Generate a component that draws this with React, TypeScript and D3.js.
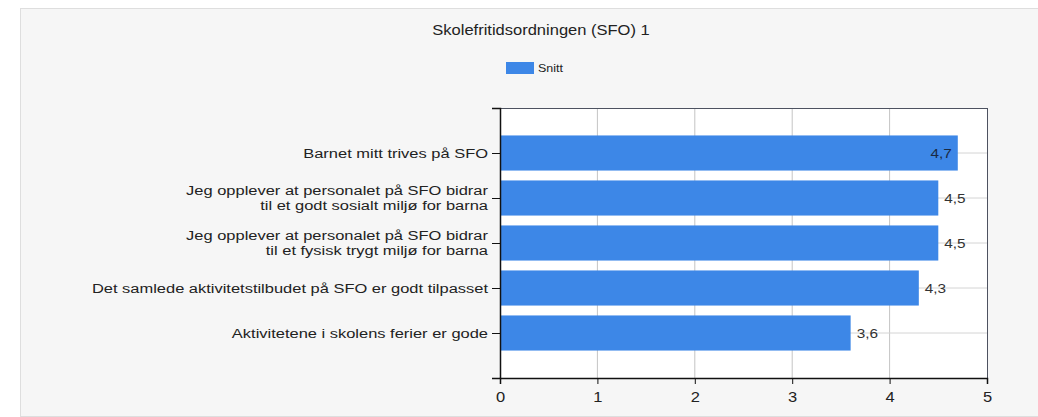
import React, { useEffect, useRef } from "react";
import * as d3 from "d3";

const title = "Skolefritidsordningen (SFO) 1";
const seriesName = "Snitt";
const categories = [
  ["Barnet mitt trives på SFO"],
  ["Jeg opplever at personalet på SFO bidrar", "til et godt sosialt miljø for barna"],
  ["Jeg opplever at personalet på SFO bidrar", "til et fysisk trygt miljø for barna"],
  ["Det samlede aktivitetstilbudet på SFO er godt tilpasset"],
  ["Aktivitetene i skolens ferier er gode"],
];
const values = [4.7, 4.5, 4.5, 4.3, 3.6];
const xTicks = [0, 1, 2, 3, 4, 5];

const W = 1038;
const H = 417;
const margin = { top: 108, right: 51, bottom: 39, left: 500 };
const font = "'Liberation Sans', Arial, sans-serif";
const barColor = "#3d87e7";
// the source picture is stretched sideways, so text is widened a bit
const SX = 1.18;

const App = () => {
  const svgRef = useRef<SVGSVGElement>(null);

  useEffect(() => {
    const svg = d3.select(svgRef.current);
    svg.selectAll("*").remove();

    const width = W - margin.left - margin.right;
    const height = H - margin.top - margin.bottom;

    // panel
    svg
      .append("rect")
      .attr("x", 20.5)
      .attr("y", 8.5)
      .attr("width", W)
      .attr("height", H - 9)
      .attr("fill", "#f6f6f6")
      .attr("stroke", "#dedede");

    svg
      .append("text")
      .attr("transform", `translate(541,35) scale(${SX},1)`)
      .attr("text-anchor", "middle")
      .style("font", `14px ${font}`)
      .attr("fill", "#222")
      .text(title);

    // legend
    svg.append("rect").attr("x", 506).attr("y", 62).attr("width", 28).attr("height", 12).attr("fill", barColor);
    svg
      .append("text")
      .attr("transform", `translate(538,72) scale(1.25,1)`)
      .style("font", `10px ${font}`)
      .attr("fill", "#222")
      .text(seriesName);

    const g = svg.append("g").attr("transform", `translate(${margin.left},${margin.top})`);

    const x = d3.scaleLinear().domain([0, 5]).range([0, width]);
    const y = d3
      .scalePoint<number>()
      .domain(values.map((_, i) => i))
      .range([0, height])
      .padding(1);
    const barH = y.step() * 0.78;

    g.append("rect").attr("width", width).attr("height", height).attr("fill", "#fff");

    // gridlines
    g.selectAll(".vgrid")
      .data(xTicks.slice(1, -1))
      .enter()
      .append("line")
      .attr("x1", (d) => x(d))
      .attr("x2", (d) => x(d))
      .attr("y1", 0)
      .attr("y2", height)
      .attr("stroke", "#c4c4c4");
    g.selectAll(".hgrid")
      .data(values.map((_, i) => i))
      .enter()
      .append("line")
      .attr("x1", 0)
      .attr("x2", width)
      .attr("y1", (d) => y(d)!)
      .attr("y2", (d) => y(d)!)
      .attr("stroke", "#d4d4d4");

    // border
    g.append("rect")
      .attr("x", 0.5)
      .attr("y", 0.5)
      .attr("width", width)
      .attr("height", height)
      .attr("fill", "none")
      .attr("stroke", "#4d5260");

    g.selectAll(".bar")
      .data(values)
      .enter()
      .append("rect")
      .attr("x", 0)
      .attr("y", (_, i) => y(i)! - barH / 2)
      .attr("width", (d) => x(d))
      .attr("height", barH)
      .attr("fill", barColor);

    const fmt = (d: number) => d3.format(".1f")(d).replace(".", ",");
    const inside = (d: number) => x(d) + 32 > width;
    g.selectAll(".val")
      .data(values)
      .enter()
      .append("text")
      .attr(
        "transform",
        (d, i) => `translate(${inside(d) ? x(d) - 6 : x(d) + 6},${y(i)! + 5}) scale(${SX},1)`
      )
      .attr("text-anchor", (d) => (inside(d) ? "end" : "start"))
      .style("font", `13px ${font}`)
      .attr("fill", (d) => (inside(d) ? "#1a2a44" : "#333"))
      .text(fmt);

    // x axis
    const xAxis = g
      .append("g")
      .attr("transform", `translate(0,${height})`)
      .call(d3.axisBottom(x).tickValues(xTicks).tickSize(6).tickFormat(d3.format("d")));
    xAxis.select(".domain").attr("stroke", "#111").attr("stroke-width", 1.5);
    xAxis.selectAll(".tick line").attr("stroke", "#111");
    xAxis
      .selectAll(".tick text")
      .style("font", `15px ${font}`)
      .attr("fill", "#222")
      .attr("y", 0)
      .attr("dy", 0)
      .attr("transform", `translate(0,24) scale(1.1,1)`);

    // y axis
    const yAxis = g.append("g").call(d3.axisLeft(y).tickSize(8).tickFormat(() => ""));
    yAxis.select(".domain").attr("stroke", "#111").attr("stroke-width", 1.5);
    yAxis.selectAll(".tick line").attr("stroke", "#111");

    const lab = g
      .selectAll(".cat")
      .data(categories)
      .enter()
      .append("text")
      .attr("text-anchor", "end")
      .style("font", `13.5px ${font}`)
      .attr("fill", "#222")
      .attr("transform", (_, i) => `translate(-12,${y(i)}) scale(1.22,1)`);
    lab
      .selectAll("tspan")
      .data((d) => d.map((t, j) => ({ t, j, n: d.length })))
      .enter()
      .append("tspan")
      .attr("x", 0)
      .attr("y", (d) => (d.j - (d.n - 1) / 2) * 15 + 4.5)
      .text((d) => d.t);
  }, []);

  return (
    <svg
      ref={svgRef}
      width={W}
      height={H}
      style={{ position: "absolute", left: 0, top: 0, background: "#fff" }}
    ></svg>
  );
};

export default App;
